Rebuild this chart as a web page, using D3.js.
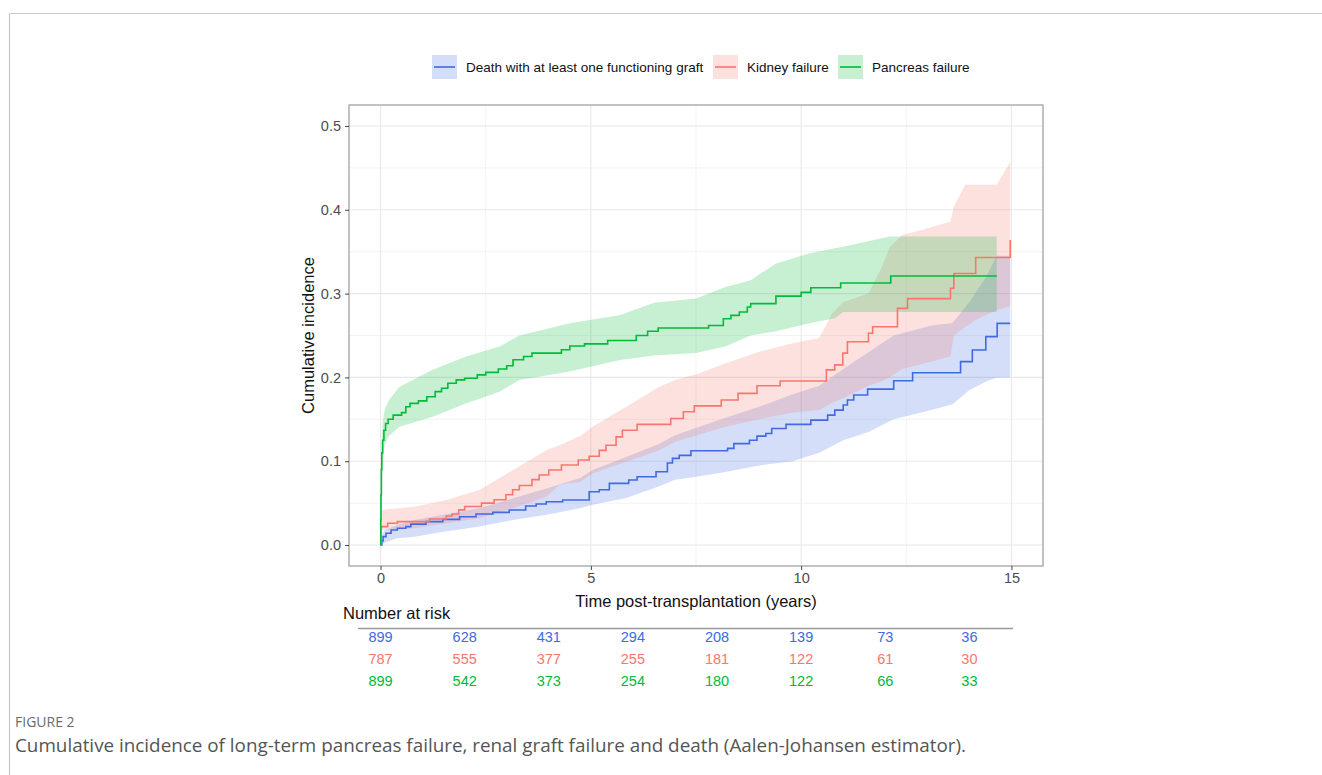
<!DOCTYPE html>
<html>
<head>
<meta charset="utf-8">
<script src="https://cdn.jsdelivr.net/npm/d3@7"></script>
<style>
  body { margin: 0; background: #fff; }
  text { font-family: "Liberation Sans", Arial, sans-serif; }
</style>
</head>
<body>
<div id="chart"></div>
<script>
// Death with at least one functioning graft (Aalen-Johansen steps)
const deathTime = [0, 0.03, 0.06, 0.13, 0.25, 0.4, 0.6, 0.72, 1.08, 1.48, 1.88, 2.27, 2.67, 3.06, 3.45, 3.7, 3.94, 4.33, 4.96, 5.2, 5.44, 5.9, 6.1, 6.55, 6.82, 6.94, 7.1, 7.38, 8.25, 8.4, 8.77, 8.95, 9.16, 9.3, 9.64, 10.23, 10.63, 10.8, 11.0, 11.1, 11.25, 11.58, 12.2, 12.65, 13.79, 14.07, 14.39, 14.66, 14.97];
const deathCif = [0, 0.005, 0.01, 0.014, 0.018, 0.02, 0.022, 0.025, 0.028, 0.0306, 0.0338, 0.037, 0.039, 0.0418, 0.0465, 0.049, 0.0517, 0.0537, 0.0636, 0.066, 0.0736, 0.0776, 0.0815, 0.0875, 0.0978, 0.1034, 0.107, 0.1125, 0.1153, 0.121, 0.125, 0.13, 0.133, 0.139, 0.144, 0.149, 0.155, 0.161, 0.167, 0.173, 0.179, 0.186, 0.196, 0.2056, 0.2188, 0.2327, 0.2486, 0.2645, 0.2645];
const deathBandT = [0, 0.02, 0.1, 0.4, 0.8, 1.5, 2.35, 3.15, 3.94, 4.75, 5.04, 5.84, 6.63, 7.0, 7.58, 8.2, 9.0, 9.8, 10.43, 11.0, 11.6, 12.2, 13.1, 13.6, 14.0, 14.4, 14.65, 14.97];
const deathLo = [0, 0, 0.003, 0.008, 0.01, 0.016, 0.022, 0.03, 0.036, 0.044, 0.048, 0.056, 0.07, 0.078, 0.082, 0.087, 0.095, 0.1, 0.11, 0.125, 0.135, 0.15, 0.161, 0.168, 0.185, 0.195, 0.2, 0.2];
const deathHi = [0, 0.012, 0.018, 0.024, 0.03, 0.036, 0.044, 0.0557, 0.0676, 0.08, 0.0895, 0.105, 0.121, 0.131, 0.141, 0.152, 0.165, 0.18, 0.19, 0.21, 0.23, 0.25, 0.262, 0.265, 0.29, 0.32, 0.345, 0.345];

// Kidney failure
const kidneyTime = [0, 0.01, 0.17, 0.4, 1.16, 1.56, 1.7, 1.86, 2.0, 2.4, 2.7, 2.98, 3.14, 3.3, 3.6, 3.77, 4.0, 4.3, 4.7, 4.96, 5.2, 5.36, 5.6, 5.75, 6.1, 6.9, 7.2, 7.46, 8.1, 8.5, 8.95, 9.5, 10.6, 10.8, 10.99, 11.1, 11.6, 11.7, 12.29, 12.53, 13.55, 13.63, 14.15, 14.97];
const kidneyCif = [0, 0.022, 0.026, 0.028, 0.031, 0.0346, 0.037, 0.042, 0.046, 0.05, 0.054, 0.06, 0.066, 0.071, 0.078, 0.0835, 0.0895, 0.0955, 0.1014, 0.106, 0.113, 0.119, 0.129, 0.137, 0.144, 0.151, 0.159, 0.166, 0.173, 0.181, 0.19, 0.1957, 0.209, 0.215, 0.229, 0.2426, 0.2526, 0.2605, 0.2824, 0.294, 0.3063, 0.324, 0.343, 0.364];
const kidneyBandT = [0, 0.05, 0.8, 1.56, 2.35, 3.15, 3.94, 4.25, 4.75, 5.04, 5.84, 6.63, 7.0, 7.58, 8.2, 9.0, 9.8, 10.43, 10.75, 11.0, 11.6, 11.9, 12.1, 12.4, 12.8, 13.55, 13.63, 13.9, 14.2, 14.65, 14.97];
const kidneyLo = [0.014, 0.018, 0.02, 0.026, 0.032, 0.044, 0.0577, 0.0716, 0.0756, 0.0855, 0.0994, 0.113, 0.123, 0.132, 0.141, 0.15, 0.158, 0.161, 0.17, 0.175, 0.19, 0.195, 0.2, 0.21, 0.215, 0.225, 0.25, 0.26, 0.27, 0.28, 0.285];
const kidneyHi = [0.034, 0.042, 0.0457, 0.0537, 0.0656, 0.0895, 0.113, 0.119, 0.13, 0.141, 0.165, 0.189, 0.197, 0.205, 0.217, 0.2307, 0.2407, 0.247, 0.277, 0.29, 0.30, 0.33, 0.355, 0.37, 0.375, 0.386, 0.404, 0.43, 0.43, 0.43, 0.457];

// Pancreas failure
const pancreasTime = [0, 0.005, 0.01, 0.02, 0.03, 0.05, 0.08, 0.12, 0.18, 0.3, 0.5, 0.6, 0.7, 0.9, 1.1, 1.3, 1.45, 1.6, 1.8, 2.0, 2.3, 2.5, 2.8, 3.0, 3.15, 3.4, 3.6, 4.3, 4.5, 4.85, 5.4, 6.08, 6.35, 6.6, 7.8, 8.15, 8.33, 8.53, 8.72, 8.8, 9.4, 10.0, 10.23, 10.94, 12.13, 14.65];
const pancreasCif = [0, 0.03, 0.06, 0.09, 0.11, 0.125, 0.137, 0.145, 0.15, 0.155, 0.158, 0.165, 0.169, 0.172, 0.177, 0.183, 0.187, 0.193, 0.197, 0.199, 0.203, 0.206, 0.21, 0.214, 0.221, 0.225, 0.229, 0.233, 0.2375, 0.24, 0.244, 0.25, 0.255, 0.259, 0.262, 0.27, 0.274, 0.278, 0.284, 0.288, 0.297, 0.3015, 0.307, 0.3126, 0.321, 0.321];
const pancreasBandT = [0, 0.01, 0.03, 0.06, 0.1, 0.2, 0.45, 1.24, 2.03, 2.83, 3.3, 4.5, 5.7, 6.5, 7.5, 8.2, 8.8, 9.4, 10.2, 10.8, 11.0, 12.1, 14.65];
const pancreasLo = [0, 0.03, 0.08, 0.105, 0.12, 0.13, 0.141, 0.153, 0.169, 0.183, 0.197, 0.207, 0.2207, 0.226, 0.229, 0.237, 0.25, 0.255, 0.2645, 0.2705, 0.278, 0.278, 0.278];
const pancreasHi = [0, 0.08, 0.13, 0.15, 0.162, 0.173, 0.189, 0.209, 0.225, 0.237, 0.25, 0.2645, 0.2745, 0.289, 0.294, 0.308, 0.316, 0.336, 0.348, 0.354, 0.356, 0.368, 0.368];

// Number at risk table
const riskTimes = [0, 2, 4, 6, 8, 10, 12, 14];
const riskDeath = [899, 628, 431, 294, 208, 139, 73, 36];
const riskKidney = [787, 555, 377, 255, 181, 122, 61, 30];
const riskPancreas = [899, 542, 373, 254, 180, 122, 66, 33];

const xTicks = [0, 5, 10, 15];
const yTicks = [0, 0.1, 0.2, 0.3, 0.4, 0.5];
const legendLabels = ["Death with at least one functioning graft", "Kidney failure", "Pancreas failure"];

const W = 1322, H = 775;
const colors = ["#4169E1", "#F8766D", "#00BA38"];

const svg = d3.select("#chart").append("svg")
  .attr("width", W).attr("height", H);

svg.append("rect").attr("width", W).attr("height", H).attr("fill", "#fff");

// page frame
svg.append("line").attr("x1", 9.5).attr("x2", W).attr("y1", 13.5).attr("y2", 13.5)
  .attr("stroke", "#c8c8c8").attr("stroke-width", 1.2);
svg.append("line").attr("x1", 9.5).attr("x2", 9.5).attr("y1", 13.5).attr("y2", H)
  .attr("stroke", "#c8c8c8").attr("stroke-width", 1.2);

// panel
const panel = { left: 349, right: 1043, top: 105, bottom: 566 };
const x = d3.scaleLinear().domain([-0.75, 15.75]).range([panel.left, panel.right]);
const y = d3.scaleLinear().domain([-0.025, 0.525]).range([panel.bottom, panel.top]);

const grid = svg.append("g");
const minorX = [2.5, 7.5, 12.5];
const minorY = [0.05, 0.15, 0.25, 0.35, 0.45];
grid.selectAll(".mx").data(minorX).enter().append("line")
  .attr("x1", d => x(d)).attr("x2", d => x(d))
  .attr("y1", panel.top).attr("y2", panel.bottom)
  .attr("stroke", "#f3f3f3").attr("stroke-width", 1);
grid.selectAll(".my").data(minorY).enter().append("line")
  .attr("x1", panel.left).attr("x2", panel.right)
  .attr("y1", d => y(d)).attr("y2", d => y(d))
  .attr("stroke", "#f3f3f3").attr("stroke-width", 1);
grid.selectAll(".gx").data(xTicks).enter().append("line")
  .attr("x1", d => x(d)).attr("x2", d => x(d))
  .attr("y1", panel.top).attr("y2", panel.bottom)
  .attr("stroke", "#e8e8e8").attr("stroke-width", 1.1);
grid.selectAll(".gy").data(yTicks).enter().append("line")
  .attr("x1", panel.left).attr("x2", panel.right)
  .attr("y1", d => y(d)).attr("y2", d => y(d))
  .attr("stroke", "#e8e8e8").attr("stroke-width", 1.1);

// series
const series = [
  { t: deathTime, v: deathCif, bt: deathBandT, lo: deathLo, hi: deathHi },
  { t: kidneyTime, v: kidneyCif, bt: kidneyBandT, lo: kidneyLo, hi: kidneyHi },
  { t: pancreasTime, v: pancreasCif, bt: pancreasBandT, lo: pancreasLo, hi: pancreasHi }
];

// bands are drawn through their read knots (many tiny steps in the original)
const area = d3.area()
  .curve(d3.curveLinear)
  .x(d => x(d[0])).y0(d => y(d[1])).y1(d => y(d[2]));
const line = d3.line()
  .curve(d3.curveStepAfter)
  .x(d => x(d[0])).y(d => y(d[1]));

const plot = svg.append("g");
series.forEach((s, i) => {
  plot.append("path")
    .datum(s.bt.map((t, k) => [t, s.lo[k], s.hi[k]]))
    .attr("d", area)
    .attr("fill", colors[i]).attr("fill-opacity", 0.22);
});
series.forEach((s, i) => {
  plot.append("path")
    .datum(s.t.map((t, k) => [t, s.v[k]]))
    .attr("d", line)
    .attr("fill", "none")
    .attr("stroke", colors[i]).attr("stroke-width", 1.6);
});

// panel border
svg.append("rect")
  .attr("x", panel.left).attr("y", panel.top)
  .attr("width", panel.right - panel.left).attr("height", panel.bottom - panel.top)
  .attr("fill", "none").attr("stroke", "#9a9a9a").attr("stroke-width", 1.2);

// axes
const yAxis = svg.append("g")
  .attr("transform", "translate(" + panel.left + ",0)")
  .call(d3.axisLeft(y).tickValues(yTicks).tickFormat(d3.format(".1f")).tickSize(4).tickPadding(4));
const xAxis = svg.append("g")
  .attr("transform", "translate(0," + panel.bottom + ")")
  .call(d3.axisBottom(x).tickValues(xTicks).tickFormat(d3.format("d")).tickSize(4).tickPadding(3));
[xAxis, yAxis].forEach(a => {
  a.select(".domain").remove();
  a.selectAll(".tick line").attr("stroke", "#444");
  a.selectAll(".tick text")
    .attr("fill", "#4d4d4d")
    .style("font-size", "14.5px")
    .style("font-family", "'Liberation Sans', Arial, sans-serif");
});

svg.append("text")
  .attr("transform", "translate(314," + ((panel.top + panel.bottom) / 2) + ") rotate(-90)")
  .attr("text-anchor", "middle")
  .style("font-size", "16.5px")
  .attr("fill", "#111")
  .text("Cumulative incidence");

svg.append("text")
  .attr("x", (panel.left + panel.right) / 2).attr("y", 607)
  .attr("text-anchor", "middle")
  .style("font-size", "16.5px")
  .attr("fill", "#111")
  .text("Time post-transplantation (years)");

// legend
const legend = svg.append("g");
const legendX = [432, 713, 838];
legendLabels.forEach((lab, i) => {
  const g = legend.append("g").attr("transform", "translate(" + legendX[i] + ",55)");
  g.append("rect").attr("width", 25).attr("height", 24)
    .attr("fill", colors[i]).attr("fill-opacity", 0.22);
  g.append("line").attr("x1", 2).attr("x2", 23).attr("y1", 12).attr("y2", 12)
    .attr("stroke", colors[i]).attr("stroke-width", 1.6);
  g.append("text").attr("x", 34).attr("y", 17)
    .style("font-size", "13.5px").attr("fill", "#111")
    .text(lab);
});

// risk table
svg.append("text")
  .attr("x", 343).attr("y", 619)
  .style("font-size", "16.5px").attr("fill", "#111")
  .text("Number at risk");
svg.append("line")
  .attr("x1", 358).attr("x2", 1013).attr("y1", 628.5).attr("y2", 628.5)
  .attr("stroke", "#9a9a9a").attr("stroke-width", 1.6);

const riskRows = [riskDeath, riskKidney, riskPancreas];
const rowY = [637, 659, 681];
riskRows.forEach((row, i) => {
  svg.append("g").selectAll("text").data(row).enter().append("text")
    .attr("x", (d, k) => x(riskTimes[k]))
    .attr("y", rowY[i])
    .attr("dy", "0.36em")
    .attr("text-anchor", "middle")
    .style("font-size", "14.5px")
    .attr("fill", colors[i])
    .text(d => d);
});

// caption
svg.append("text")
  .attr("x", 15).attr("y", 727)
  .style("font-family", "'Open Sans', 'Noto Sans', sans-serif")
  .style("font-size", "14px")
  .attr("fill", "#6b6b6b")
  .text("FIGURE 2");
svg.append("text")
  .attr("x", 15).attr("y", 752)
  .style("font-family", "'Open Sans', 'Noto Sans', sans-serif")
  .style("font-size", "18.85px")
  .attr("fill", "#555")
  .text("Cumulative incidence of long-term pancreas failure, renal graft failure and death (Aalen-Johansen estimator).");
</script>
</body>
</html>
